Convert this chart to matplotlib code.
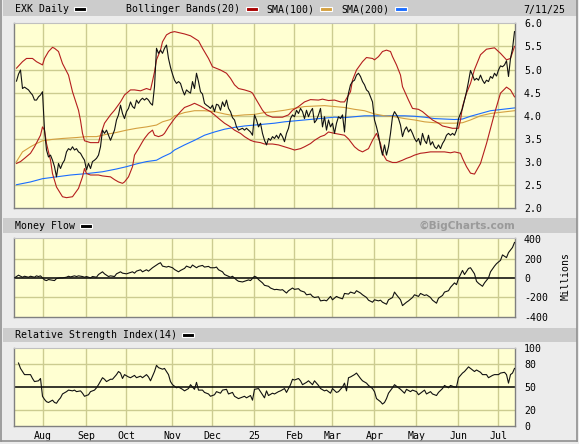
import numpy as np
import matplotlib
matplotlib.use("Agg")
import matplotlib.pyplot as plt
from matplotlib.patches import Rectangle
from matplotlib.lines import Line2D

W, H = 579, 444

# trading-day index of the first session of each month
month_days = [14, 36, 56, 79, 99, 120, 140, 159, 180, 201, 222, 242]
month_labels = ["Aug", "Sep", "Oct", "Nov", "Dec", "25", "Feb", "Mar",
                "Apr", "May", "Jun", "Jul"]

# daily close, sessions 1..250
close = [
    4.75, 4.90, 4.99, 4.59, 4.62, 4.59, 4.56, 4.50, 4.45, 4.34,
    4.34, 4.41, 4.45, 4.52, 3.69, 3.26, 3.11, 3.15, 3.04, 2.90,
    2.68, 2.97, 2.86, 2.97, 3.04, 3.22, 3.29, 3.26, 3.33, 3.26,
    3.29, 3.22, 3.19, 3.11, 3.04, 2.83, 2.97, 2.86, 3.01, 3.04,
    3.08, 3.15, 3.33, 3.69, 3.62, 3.69, 3.58, 3.47, 3.58, 3.69,
    3.91, 4.02, 4.23, 4.05, 3.94, 4.09, 4.16, 4.30, 4.20, 4.16,
    4.34, 4.27, 4.34, 4.38, 4.34, 4.38, 4.34, 4.27, 4.23, 4.63,
    5.46, 5.35, 5.42, 5.35, 5.46, 5.53, 5.24, 5.05, 4.90, 4.77,
    4.70, 4.74, 4.70, 4.56, 4.45, 4.56, 4.52, 4.49, 4.74, 4.59,
    4.92, 4.74, 4.52, 4.47, 4.27, 4.23, 4.20, 4.16, 4.23, 4.09,
    4.25, 4.23, 4.12, 4.30, 4.20, 4.34, 4.16, 4.09, 3.96, 3.91,
    3.76, 3.69, 3.71, 3.73, 3.69, 3.73, 3.69, 3.65, 3.58, 4.02,
    3.91, 3.76, 3.84, 3.62, 3.47, 3.37, 3.51, 3.47, 3.55, 3.51,
    3.58, 3.51, 3.62, 3.55, 3.44, 3.62, 3.73, 3.94, 4.02, 3.98,
    4.12, 4.05, 4.16, 4.09, 3.94, 4.12, 3.98, 4.09, 4.16, 3.85,
    3.91, 4.02, 4.16, 3.76, 3.98, 3.69, 3.91, 3.76, 3.84, 3.62,
    3.84, 3.98, 3.94, 4.02, 3.65, 4.23, 4.49, 4.67, 4.74, 4.77,
    4.88, 4.92, 4.85, 4.74, 4.67, 4.56, 4.52, 4.41, 4.30, 3.91,
    3.76, 3.58, 3.33, 3.15, 3.37, 3.15, 3.33, 3.62, 3.98, 4.09,
    4.02, 3.94, 3.80, 3.55, 3.69, 3.76, 3.65, 3.71, 3.62, 3.51,
    3.44, 3.51, 3.37, 3.62, 3.47, 3.40, 3.58, 3.37, 3.44, 3.33,
    3.29, 3.37, 3.29, 3.40, 3.47, 3.58, 3.62, 3.58, 3.62, 3.58,
    3.69, 3.94, 4.05, 4.16, 4.34, 4.52, 4.74, 4.98, 4.88, 4.77,
    4.81, 4.77, 4.88, 4.77, 4.70, 4.77, 4.74, 4.85, 4.81, 4.92,
    4.86, 4.99, 5.08, 5.06, 5.10, 5.19, 4.85, 5.24, 5.45, 5.82,
]
close_days = np.arange(1, len(close) + 1)

# Bollinger bands (20) as (session, value)
upper_band = [
    (1, 5.03), (4, 5.17), (6, 5.24), (9, 5.24), (11, 5.17), (14, 5.10),
    (15, 5.24), (17, 5.39), (19, 5.48), (20, 5.46), (22, 5.39), (24, 5.13),
    (27, 4.88), (29, 4.52), (32, 4.12), (33, 3.90), (34, 3.62), (35, 3.46),
    (38, 3.42), (40, 3.42), (42, 3.42), (43, 3.58), (45, 3.84), (48, 4.02),
    (50, 4.12), (53, 4.30), (55, 4.45), (58, 4.56), (60, 4.56), (63, 4.54),
    (66, 4.59), (68, 4.56), (69, 4.75), (70, 4.95), (71, 5.21), (73, 5.42),
    (74, 5.60), (76, 5.75), (78, 5.80), (80, 5.82), (82, 5.80), (85, 5.77),
    (88, 5.73), (92, 5.62), (94, 5.46), (97, 5.24), (99, 5.06), (103, 4.99),
    (106, 4.92), (108, 4.81), (110, 4.67), (112, 4.59), (115, 4.56),
    (118, 4.52), (119, 4.49), (121, 4.34), (124, 4.12), (126, 4.02),
    (129, 3.97), (132, 3.97), (134, 3.97), (137, 4.02), (139, 4.12),
    (142, 4.20), (145, 4.30), (148, 4.35), (152, 4.34), (154, 4.36),
    (157, 4.33), (160, 4.34), (163, 4.30), (165, 4.30), (168, 4.52),
    (169, 4.77), (171, 4.99), (174, 5.17), (176, 5.26), (179, 5.24),
    (180, 5.21), (182, 5.28), (184, 5.39), (186, 5.42), (188, 5.39),
    (189, 5.28), (191, 5.10), (193, 4.88), (194, 4.63), (197, 4.34),
    (199, 4.16), (202, 4.14), (204, 4.09), (207, 3.98), (209, 3.91),
    (212, 3.84), (214, 3.78), (217, 3.75), (219, 3.73), (222, 3.73),
    (223, 3.91), (224, 4.20), (226, 4.49), (228, 4.70), (230, 5.00),
    (233, 5.32), (236, 5.44), (240, 5.47), (243, 5.35), (246, 5.21),
    (248, 5.24), (250, 5.50),
]
lower_band = [
    (1, 2.97), (3, 3.01), (5, 3.08), (8, 3.19), (10, 3.33), (13, 3.58),
    (14, 3.76), (15, 3.69), (16, 3.40), (18, 3.04), (19, 2.75), (21, 2.46),
    (23, 2.32), (24, 2.25), (26, 2.23), (29, 2.25), (30, 2.31), (32, 2.43),
    (34, 2.68), (35, 2.86), (36, 2.75), (38, 2.72), (40, 2.72), (42, 2.72),
    (44, 2.70), (48, 2.68), (50, 2.62), (52, 2.57), (54, 2.54), (55, 2.57),
    (57, 2.68), (59, 2.90), (60, 3.15), (62, 3.29), (64, 3.44), (65, 3.51),
    (67, 3.62), (69, 3.69), (70, 3.58), (72, 3.55), (74, 3.58), (75, 3.62),
    (77, 3.76), (80, 3.94), (83, 4.09), (85, 4.18), (88, 4.23), (90, 4.27),
    (93, 4.21), (95, 4.16), (98, 4.09), (100, 4.02), (103, 3.91), (105, 3.84),
    (108, 3.76), (110, 3.69), (113, 3.62), (115, 3.55), (118, 3.47),
    (120, 3.44), (123, 3.42), (125, 3.39), (129, 3.39), (132, 3.37),
    (135, 3.33), (138, 3.29), (140, 3.26), (143, 3.29), (145, 3.33),
    (148, 3.40), (150, 3.47), (153, 3.55), (155, 3.58), (157, 3.65),
    (160, 3.62), (165, 3.58), (167, 3.50), (170, 3.33), (172, 3.26),
    (174, 3.22), (177, 3.29), (179, 3.47), (181, 3.62), (183, 3.40),
    (184, 3.19), (186, 3.04), (189, 2.99), (191, 2.99), (194, 3.04),
    (196, 3.08), (198, 3.11), (200, 3.15), (203, 3.19), (205, 3.20),
    (208, 3.22), (210, 3.22), (213, 3.22), (215, 3.22), (218, 3.20),
    (220, 3.22), (223, 3.19), (224, 3.08), (226, 2.90), (228, 2.76),
    (230, 2.74), (233, 2.97), (236, 3.40), (240, 4.05), (243, 4.49),
    (246, 4.62), (248, 4.56), (250, 4.41),
]
sma100 = [
    (1, 3.01), (4, 3.22), (8, 3.33), (11, 3.40), (14, 3.46), (19, 3.49),
    (24, 3.51), (31, 3.53), (36, 3.55), (41, 3.55), (46, 3.60), (51, 3.64),
    (56, 3.69), (61, 3.73), (66, 3.76), (71, 3.80), (74, 3.87), (78, 3.92),
    (80, 4.00), (85, 4.07), (90, 4.11), (95, 4.11), (100, 4.09), (105, 4.04),
    (110, 4.00), (115, 4.02), (120, 4.03), (125, 4.07), (130, 4.09),
    (135, 4.12), (140, 4.16), (145, 4.20), (150, 4.21), (155, 4.22),
    (160, 4.20), (165, 4.18), (170, 4.14), (175, 4.11), (180, 4.04),
    (185, 4.00), (190, 3.98), (195, 3.94), (200, 3.91), (205, 3.87),
    (210, 3.85), (215, 3.84), (220, 3.84), (224, 3.85), (228, 3.91),
    (233, 4.00), (238, 4.05), (244, 4.08), (250, 4.11),
]
sma200 = [
    (1, 2.51), (8, 2.57), (14, 2.64), (21, 2.68), (28, 2.72), (36, 2.75),
    (44, 2.79), (51, 2.85), (56, 2.90), (61, 2.96), (66, 3.01), (71, 3.04),
    (74, 3.11), (78, 3.19), (80, 3.26), (85, 3.37), (90, 3.47), (95, 3.58),
    (100, 3.65), (105, 3.71), (110, 3.75), (115, 3.78), (120, 3.80),
    (125, 3.82), (130, 3.84), (135, 3.87), (140, 3.89), (145, 3.91),
    (150, 3.93), (155, 3.95), (160, 3.97), (165, 3.96), (170, 3.98),
    (175, 4.00), (180, 4.00), (185, 4.00), (190, 4.00), (195, 4.00),
    (200, 3.99), (205, 3.97), (210, 3.94), (215, 3.93), (220, 3.92),
    (224, 3.93), (228, 3.99), (233, 4.05), (238, 4.11), (244, 4.14),
    (250, 4.17),
]

# money flow, millions
money_flow = [
    (0, 0), (2, 28), (4, 7), (5, 17), (7, 7), (8, 17), (10, 7), (11, 21),
    (12, 14), (13, 21), (15, -21), (16, -28), (17, -17), (19, -24), (20, -28),
    (21, -7), (23, 0), (24, 0), (26, 7), (27, 17), (28, 10), (30, 21),
    (31, 14), (32, 21), (34, 14), (35, 7), (36, 14), (38, 0), (39, 14),
    (41, 7), (42, 35), (44, 63), (45, 42), (47, 14), (48, 21), (50, 14),
    (51, 42), (53, 63), (54, 49), (56, 42), (57, 49), (59, 63), (60, 49),
    (61, 70), (63, 84), (64, 63), (66, 84), (67, 70), (69, 105), (70, 119),
    (72, 147), (73, 157), (74, 122), (76, 112), (77, 119), (79, 105),
    (80, 87), (82, 63), (83, 77), (85, 98), (86, 122), (88, 105), (89, 133),
    (91, 105), (92, 119), (94, 129), (95, 112), (97, 119), (98, 105),
    (100, 105), (101, 112), (102, 84), (104, 63), (105, 35), (107, 17),
    (108, 7), (109, 17), (111, -21), (112, -35), (114, -42), (115, -35),
    (117, -21), (118, -28), (120, 17), (121, 7), (122, -17), (124, -52),
    (125, -77), (127, -87), (128, -105), (130, -122), (131, -119),
    (133, -126), (134, -122), (136, -157), (137, -133), (139, -105),
    (140, -119), (142, -112), (143, -133), (145, -147), (146, -175),
    (148, -168), (149, -192), (150, -203), (152, -196), (153, -238),
    (155, -231), (156, -238), (158, -192), (159, -227), (161, -192),
    (162, -203), (164, -217), (165, -161), (167, -168), (168, -147),
    (170, -161), (171, -133), (173, -157), (174, -175), (176, -203),
    (177, -231), (179, -252), (180, -227), (182, -238), (183, -231),
    (184, -252), (186, -273), (187, -227), (189, -203), (190, -147),
    (191, -175), (193, -227), (194, -287), (196, -252), (197, -238),
    (199, -203), (200, -175), (202, -192), (203, -161), (205, -182),
    (206, -175), (208, -203), (209, -231), (211, -262), (212, -210),
    (214, -182), (215, -147), (217, -133), (218, -98), (220, -52),
    (221, -70), (222, -7), (224, 77), (225, 35), (227, 98), (228, 105),
    (230, 42), (231, -35), (232, -56), (234, -87), (235, -52), (237, 0),
    (238, 63), (240, 122), (241, 147), (243, 182), (244, 238), (246, 210),
    (247, 262), (249, 315), (250, 367),
]

# relative strength index (14)
rsi = [
    (2, 81), (3, 74), (5, 66), (7, 66), (8, 66), (9, 61), (10, 57), (12, 58),
    (13, 61), (14, 38), (15, 34), (16, 31), (17, 30), (19, 33), (20, 30),
    (21, 29), (22, 33), (23, 36), (24, 41), (26, 44), (27, 46), (29, 45),
    (30, 46), (31, 44), (33, 45), (34, 42), (35, 38), (37, 40), (38, 44),
    (40, 46), (41, 49), (42, 53), (44, 62), (45, 60), (46, 57), (48, 60),
    (49, 60), (51, 66), (52, 70), (53, 68), (54, 61), (55, 66), (57, 63),
    (58, 62), (60, 65), (61, 62), (63, 64), (64, 62), (66, 66), (67, 63),
    (68, 58), (70, 70), (71, 78), (72, 75), (74, 73), (75, 74), (77, 66),
    (78, 57), (79, 53), (81, 49), (82, 50), (84, 47), (85, 45), (87, 48),
    (88, 53), (90, 47), (91, 56), (92, 46), (94, 46), (95, 43), (97, 41),
    (98, 38), (100, 40), (101, 44), (103, 42), (104, 46), (106, 47),
    (107, 41), (109, 43), (110, 38), (112, 35), (113, 36), (115, 38),
    (116, 36), (118, 39), (119, 33), (120, 47), (122, 48), (123, 44),
    (125, 36), (126, 45), (127, 39), (129, 42), (130, 41), (132, 44),
    (133, 45), (135, 48), (136, 43), (138, 53), (139, 60), (140, 59),
    (142, 61), (143, 58), (144, 53), (146, 56), (147, 58), (149, 53),
    (150, 58), (152, 52), (153, 48), (155, 45), (156, 46), (158, 42),
    (159, 48), (161, 43), (162, 44), (164, 50), (165, 55), (166, 45),
    (167, 62), (168, 63), (170, 66), (171, 68), (173, 61), (174, 58),
    (176, 55), (177, 52), (179, 48), (180, 44), (181, 35), (183, 31),
    (184, 28), (185, 30), (186, 35), (187, 42), (189, 49), (190, 53),
    (192, 49), (193, 47), (195, 42), (196, 47), (198, 44), (199, 46),
    (201, 44), (202, 40), (204, 44), (205, 46), (206, 41), (208, 44),
    (209, 41), (211, 39), (212, 43), (214, 48), (215, 52), (217, 49),
    (218, 52), (220, 50), (221, 50), (222, 62), (224, 68), (225, 70),
    (227, 76), (228, 74), (230, 70), (231, 72), (233, 69), (234, 66),
    (236, 66), (237, 62), (239, 65), (240, 66), (242, 66), (243, 68),
    (245, 69), (246, 66), (247, 55), (248, 66), (249, 68), (250, 74),
]

BG = "#ececec"
PANEL = "#ffffd2"
GRID = "#cccc90"
HEADER = "#cccccc"
FONT = "DejaVu Sans Mono"
FS = 7.1
PRICE_C = "#111111"
BAND_C = "#b41e1e"
SMA100_C = "#d4a040"
SMA200_C = "#1a6cff"
LW = 0.8

plt.rcParams["font.family"] = FONT
fig = plt.figure(figsize=(W / 100, H / 100), dpi=100, facecolor=BG)


def fx(x):
    return x / W


def fy(y):
    return 1 - y / H


def header_bar(y0, y1):
    fig.patches.append(Rectangle((fx(2.5), fy(y1)), fx(576.5 - 2.5), (y1 - y0) / H,
                                 transform=fig.transFigure, facecolor=HEADER,
                                 edgecolor="none", zorder=0))


def swatch(x0, yc, color):
    fig.patches.append(Rectangle((fx(x0), fy(yc + 2)), fx(12), 4 / H,
                                 transform=fig.transFigure, facecolor=color,
                                 edgecolor="white", linewidth=0.8, zorder=2))


def make_ax(top, bottom):
    ax = fig.add_axes([fx(14), fy(bottom), fx(515 - 14), (bottom - top) / H])
    ax.set_facecolor(PANEL)
    ax.set_xlim(-0.25, 250.25)
    for d in month_days:
        ax.axvline(d, color=GRID, lw=1.0, zorder=1)
    for side in ["left", "bottom", "right"]:
        ax.spines[side].set_color("#808080")
        ax.spines[side].set_linewidth(1.0)
    ax.spines["top"].set_color("#c0c0c0")
    ax.yaxis.tick_right()
    ax.tick_params(axis="y", length=0, pad=6.5, labelsize=FS, labelcolor="black")
    ax.tick_params(axis="x", length=0, labelbottom=False)
    return ax


# outer frame and header strips
fig.add_artist(Line2D([fx(1), fx(1)], [fy(0), fy(440.5)], transform=fig.transFigure,
                      color="#909090", lw=1.2))
fig.add_artist(Line2D([fx(1), fx(577)], [fy(440.5), fy(440.5)], transform=fig.transFigure,
                      color="#909090", lw=1.2))
fig.add_artist(Line2D([fx(577), fx(577)], [fy(0), fy(440.5)], transform=fig.transFigure,
                      color="#909090", lw=1.2))
header_bar(0, 16.5)
header_bar(218.3, 233.3)
header_bar(327.7, 341.7)

# ---- price panel
ax1 = make_ax(23.3, 208.3)
ax1.set_ylim(2, 6)
for v in np.arange(2.5, 6.0, 0.5):
    ax1.axhline(v, color=GRID, lw=1.0, zorder=1)
ax1.set_yticks(np.arange(2.0, 6.01, 0.5))
ax1.set_yticklabels([f"{v:.1f}" for v in np.arange(2.0, 6.01, 0.5)])
ub_d, ub_v = zip(*upper_band)
lb_d, lb_v = zip(*lower_band)
s1_d, s1_v = zip(*sma100)
s2_d, s2_v = zip(*sma200)
ax1.plot(s2_d, s2_v, color=SMA200_C, lw=LW, zorder=2)
ax1.plot(s1_d, s1_v, color=SMA100_C, lw=LW, zorder=2)
ax1.plot(ub_d, ub_v, color=BAND_C, lw=LW, zorder=3)
ax1.plot(lb_d, lb_v, color=BAND_C, lw=LW, zorder=3)
ax1.plot(close_days, close, color=PRICE_C, lw=LW, zorder=4)

# ---- money flow panel
ax2 = make_ax(238.3, 316.7)
ax2.set_ylim(-402, 410)
for v in [-200, 200]:
    ax2.axhline(v, color=GRID, lw=1.0, zorder=1)
ax2.axhline(0, color="black", lw=1.1, zorder=2)
ax2.set_yticks([400, 200, 0, -200, -400])
ax2.set_yticklabels(["400", "200", "0", "-200", "-400"])
mf_d, mf_v = zip(*money_flow)
ax2.plot(mf_d, mf_v, color=PRICE_C, lw=LW, zorder=3)

# ---- RSI panel
ax3 = make_ax(348.3, 425.7)
ax3.set_ylim(0, 100)
for v in [20, 80]:
    ax3.axhline(v, color=GRID, lw=1.0, zorder=1)
ax3.axhline(50, color="black", lw=1.1, zorder=2)
ax3.set_yticks([100, 80, 50, 20, 0])
ax3.set_yticklabels(["100", "80", "50", "20", "0"])
rsi_d, rsi_v = zip(*rsi)
ax3.plot(rsi_d, rsi_v, color=PRICE_C, lw=LW, zorder=3)
ax3.set_xticks(month_days)
ax3.set_xticklabels(month_labels)
ax3.tick_params(axis="x", length=0, pad=3.5, labelbottom=True, labelsize=FS)

# ---- header texts
fig.text(fx(14.8), fy(9.5), "EXK Daily", fontsize=FS, va="center")
swatch(73.5, 9.5, "black")
fig.text(fx(125.5), fy(9.5), "Bollinger Bands(20)", fontsize=FS, va="center")
swatch(245.6, 9.5, "#aa0000")
fig.text(fx(266.6), fy(9.5), "SMA(100)", fontsize=FS, va="center")
swatch(319.5, 9.5, SMA100_C)
fig.text(fx(341.6), fy(9.5), "SMA(200)", fontsize=FS, va="center")
swatch(394.8, 9.5, SMA200_C)
fig.text(fx(523.6), fy(9.5), "7/11/25", fontsize=FS, va="center")

fig.text(fx(14.8), fy(226), "Money Flow", fontsize=FS, va="center")
swatch(79.5, 226, "black")
fig.text(fx(515), fy(225.5), "\u00a9BigCharts.com", fontsize=7.6, va="center",
         ha="right", color="#9a9a9a", fontweight="bold", family="DejaVu Sans")

fig.text(fx(14.8), fy(335), "Relative Strength Index(14)", fontsize=FS, va="center")
swatch(181.5, 335, "black")

fig.text(fx(566), fy(275.5), "Millions", fontsize=FS, va="center", ha="center",
         rotation=90)

fig.savefig("out.png", dpi=100, facecolor=BG)
